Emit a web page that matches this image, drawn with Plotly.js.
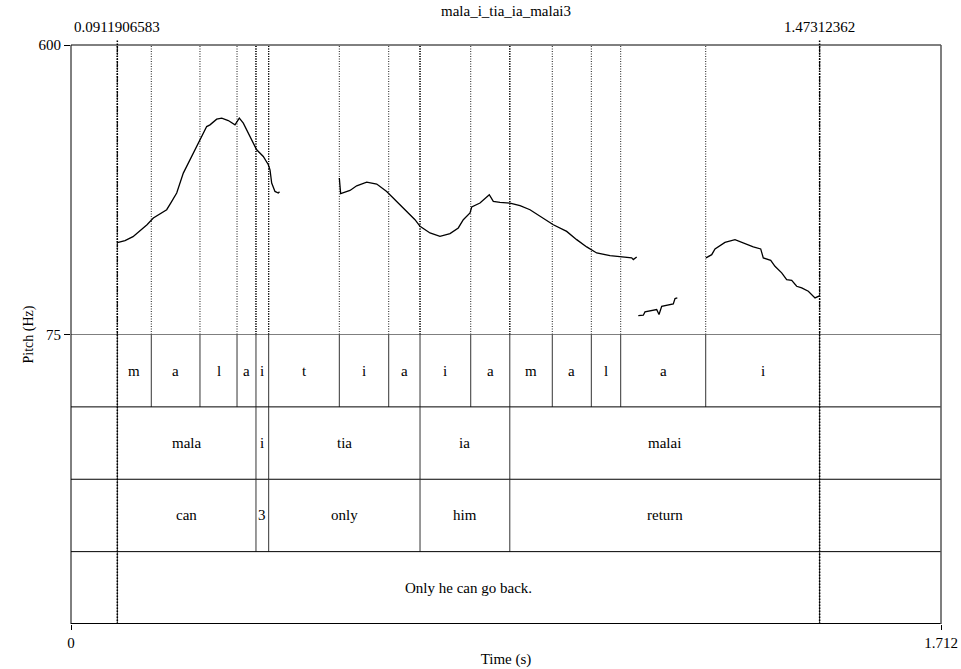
<!DOCTYPE html>
<html>
<head>
<meta charset="utf-8">
<script src="https://cdn.plot.ly/plotly-3.0.1.min.js"></script>
<style>
  html, body { margin: 0; padding: 0; background: #fff; }
  #chart { width: 961px; height: 669px; }
</style>
</head>
<body>
<div id="chart"></div>
<script>
// Pitch contour (s, Hz); null separates unvoiced gaps
const pitchTime = [
  0.0912, 0.1063, 0.1220, 0.1358, 0.1496, 0.1620, 0.1751, 0.1883, 0.1968, 0.2080,
  0.2210, 0.2342, 0.2538, 0.2670, 0.2735, 0.2867, 0.2966, 0.3095, 0.3227, 0.3312,
  0.3391, 0.3489, 0.3587, 0.3654, 0.3784, 0.3883, 0.3916, 0.3949, 0.4014, 0.4079, 0.4103,
  null,
  0.5280, 0.5307, 0.5490, 0.5622, 0.5819, 0.6016, 0.6212, 0.6409, 0.6606, 0.6769,
  0.6868, 0.7064, 0.7261, 0.7458, 0.7621, 0.7720, 0.7852, 0.7885, 0.8048, 0.8180,
  0.8231, 0.8310, 0.8442, 0.8639, 0.8836, 0.9032, 0.9229, 0.9491, 0.9754, 0.9951,
  1.0148, 1.0345, 1.0607, 1.0837, 1.1034, 1.1065, 1.1132,
  null,
  1.1163, 1.1262, 1.1295, 1.1525, 1.1571, 1.1624, 1.1852, 1.1886, 1.1931,
  null,
  1.2495, 1.2608, 1.2673, 1.2869, 1.3066, 1.3230, 1.3426, 1.3572, 1.3623, 1.3769,
  1.3853, 1.3985, 1.4083, 1.4182, 1.4280, 1.4379, 1.4509, 1.4641, 1.4739
];
const pitchHz = [
  241.6, 245.2, 252.4, 263.3, 274.1, 286.3, 294.1, 301.3, 314.0, 331.5,
  367.7, 391.8, 428.0, 452.1, 455.2, 465.5, 467.3, 463.0, 455.2, 467.3,
  458.3, 440.1, 422.0, 409.9, 397.8, 382.8, 373.7, 349.6, 334.4, 331.5, 333.9,
  null,
  358.7, 330.3, 336.2, 344.7, 351.4, 347.8, 334.4, 316.3, 298.2, 283.2,
  271.1, 259.1, 253.0, 257.9, 268.2, 283.2, 295.3, 306.2, 313.4, 325.4,
  328.5, 316.3, 314.5, 313.4, 308.5, 301.3, 289.2, 274.1, 262.0, 247.0,
  233.8, 222.9, 218.0, 215.7, 213.9, 210.8, 215.7,
  null,
  109.4, 110.0, 116.1, 120.3, 111.2, 126.2, 130.6, 140.2, 141.4,
  null,
  213.9, 219.8, 230.2, 242.1, 247.0, 241.0, 233.8, 230.2, 213.9, 209.5,
  198.7, 186.7, 174.6, 173.3, 162.5, 159.5, 153.4, 141.4, 145.6
];

// TextGrid tiers: interval boundaries (s) and labels
const phoneBounds = [0.0912, 0.1580, 0.2538, 0.3267, 0.3640, 0.3890, 0.5280, 0.6252,
                     0.6868, 0.7866, 0.8635, 0.9471, 1.0239, 1.0817, 1.2490, 1.4731];
const phoneLabels = ['m', 'a', 'l', 'a', 'i', 't', 'i', 'a', 'i', 'a', 'm', 'a', 'l', 'a', 'i'];
const wordBounds = [0.0912, 0.3640, 0.3890, 0.6868, 0.8635, 1.4731];
const wordLabels = ['mala', 'i', 'tia', 'ia', 'malai'];
const glossBounds = [0.0912, 0.3640, 0.3890, 0.6868, 0.8635, 1.4731];
const glossLabels = ['can', '3', 'only', 'him', 'return'];
const sentenceBounds = [0.0912, 1.4731];
const sentenceLabels = ['Only he can go back.'];

// Selection marks shown above the frame
const markTimes = [0.0911906583, 1.47312362];
const markLabels = ['0.0911906583', '1.47312362'];

const title = 'mala_i_tia_ia_malai3';
const timeMax = 1.712;
const pitchRange = [75, 600];

const FONT = 'Liberation Serif';
const FS = 15;

const tiers = [
  { bounds: phoneBounds, labels: phoneLabels },
  { bounds: wordBounds, labels: wordLabels },
  { bounds: glossBounds, labels: glossLabels },
  { bounds: sentenceBounds, labels: sentenceLabels }
];

const shapes = [];
const annotations = [];

// tier rows live on y2 in [0,4]; tier k spans [3-k, 4-k]
tiers.forEach((tier, k) => {
  const yTop = 4 - k, yBot = 3 - k;
  tier.bounds.forEach(t => {
    // solid boundary inside the tier
    shapes.push({ type: 'line', xref: 'x', yref: 'y2', x0: t, x1: t, y0: yBot, y1: yTop,
                  line: { color: '#333', width: 1 } });
    // dotted continuation through the pitch panel
    shapes.push({ type: 'line', xref: 'x', yref: 'y', x0: t, x1: t, y0: pitchRange[0], y1: pitchRange[1],
                  line: { color: 'rgba(0,0,0,0.9)', width: 1, dash: '1px,1.5px' } });
  });
  tier.labels.forEach((lab, i) => {
    annotations.push({ xref: 'x', yref: 'y2', x: (tier.bounds[i] + tier.bounds[i + 1]) / 2,
                       y: yBot + 0.5, text: lab, showarrow: false,
                       font: { family: FONT, size: FS, color: '#000' } });
  });
  // horizontal separator under each tier
  shapes.push({ type: 'line', xref: 'paper', yref: 'y2', x0: 0, x1: 1, y0: yBot, y1: yBot,
                line: { color: '#000', width: k === 3 ? 2 : 1 } });
});

// line between pitch panel and first tier
shapes.push({ type: 'line', xref: 'paper', yref: 'y2', x0: 0, x1: 1, y0: 4, y1: 4,
              line: { color: '#000', width: 1 } });

// frame
shapes.push({ type: 'line', xref: 'paper', yref: 'paper', x0: 0, x1: 1, y0: 1, y1: 1,
              line: { color: '#000', width: 1 } });
shapes.push({ type: 'line', xref: 'paper', yref: 'paper', x0: 0, x1: 0, y0: 0, y1: 1,
              line: { color: '#000', width: 1 } });
shapes.push({ type: 'line', xref: 'paper', yref: 'paper', x0: 1, x1: 1, y0: 0, y1: 1,
              line: { color: '#555', width: 1.5 } });

// selection marks: dotted through the whole figure, with label and tick on top
markTimes.forEach((t, i) => {
  shapes.push({ type: 'line', xref: 'x', yref: 'paper', x0: t, x1: t, y0: 0, y1: 1.01,
                line: { color: '#000', width: 1.5, dash: '1.5px,1.5px' } });
  annotations.push({ xref: 'x', yref: 'paper', x: t, y: 1, yanchor: 'bottom', yshift: 8,
                     text: markLabels[i], showarrow: false,
                     font: { family: FONT, size: FS, color: '#000' } });
});

// y-axis title centred on the full frame height
annotations.push({ xref: 'paper', yref: 'paper', x: 0, y: 0.5, xshift: -53, textangle: -90,
                   text: 'Pitch (Hz)', showarrow: false,
                   font: { family: FONT, size: 14, color: '#000' } });

const traces = [{
  type: 'scatter', mode: 'lines', x: pitchTime, y: pitchHz, connectgaps: false,
  xaxis: 'x', yaxis: 'y', line: { color: '#000', width: 1.3 }, hoverinfo: 'skip'
}];

const layout = {
  width: 961, height: 669,
  margin: { l: 71, r: 20, t: 45, b: 45 },
  paper_bgcolor: '#fff', plot_bgcolor: '#fff',
  showlegend: false,
  font: { family: FONT, size: FS, color: '#000' },
  title: { text: title, x: 0.5, xref: 'paper', y: 1 - 11 / 669, yref: 'container', yanchor: 'middle',
           font: { family: FONT, size: FS, color: '#000' } },
  xaxis: {
    range: [0, timeMax], domain: [0, 1], anchor: 'y2',
    tickvals: [0, timeMax], ticktext: ['0', '1.712'],
    ticks: 'outside', ticklen: 5, tickcolor: '#000', tickwidth: 1,
    showgrid: false, zeroline: false, showline: false,
    tickfont: { family: FONT, size: FS },
    title: { text: 'Time (s)', standoff: 3, font: { family: FONT, size: FS } }
  },
  yaxis: {
    range: pitchRange, domain: [0.5, 1], anchor: 'x',
    tickvals: pitchRange, ticktext: ['75', '600'],
    ticks: 'outside', ticklen: 6, tickcolor: '#000', tickwidth: 1,
    showgrid: false, zeroline: false, showline: false,
    tickfont: { family: FONT, size: FS }
  },
  yaxis2: {
    range: [0, 4], domain: [0, 0.5], anchor: 'x',
    visible: false, showgrid: false, zeroline: false
  },
  shapes: shapes,
  annotations: annotations
};

Plotly.newPlot('chart', traces, layout, { displayModeBar: false, staticPlot: true });
</script>
</body>
</html>
